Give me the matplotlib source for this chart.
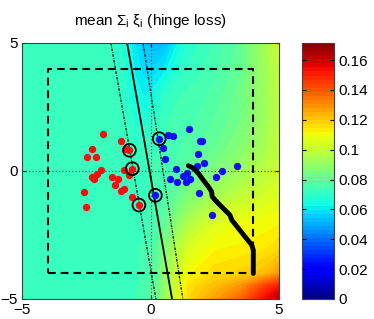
import numpy as np
import matplotlib
matplotlib.use('Agg')
import matplotlib.pyplot as plt

plt.rcParams['font.family'] = ['Liberation Sans', 'DejaVu Sans']
plt.rcParams['mathtext.fontset'] = 'custom'
plt.rcParams['mathtext.rm'] = 'Liberation Sans'
plt.rcParams['mathtext.it'] = 'Liberation Sans:italic'

# background loss surface on a coarse grid
grid_x = [-5, -3, -1.5, -1.0, -0.6, -0.2, 0.2, 0.6, 1.0, 1.5, 2.5, 3.5, 4.3, 5]
grid_y = [5, 4, 3, 2, 1, 0, -1, -2, -3, -4, -4.5, -5]
loss = [
    [.073, .073, .071, .066, .060, .054, .052, .054, .062, .069, .074, .080, .092, .102],
    [.073, .073, .072, .068, .062, .058, .058, .062, .067, .071, .075, .081, .091, .100],
    [.073, .073, .073, .069, .064, .062, .065, .070, .073, .074, .077, .083, .091, .099],
    [.073, .073, .073, .071, .067, .067, .070, .073, .074, .075, .079, .084, .091, .099],
    [.073, .073, .073, .073, .071, .071, .073, .074, .075, .077, .081, .087, .093, .100],
    [.073, .073, .073, .073, .073, .073, .074, .075, .077, .080, .086, .092, .097, .102],
    [.073, .073, .073, .073, .073, .073, .074, .077, .081, .086, .094, .100, .103, .106],
    [.073, .073, .073, .073, .073, .073, .076, .081, .088, .096, .105, .109, .110, .111],
    [.073, .073, .073, .073, .073, .074, .078, .087, .097, .105, .111, .112, .113, .116],
    [.073, .073, .073, .073, .073, .075, .080, .090, .101, .111, .116, .118, .121, .128],
    [.073, .073, .073, .073, .073, .075, .080, .091, .103, .115, .122, .129, .142, .152],
    [.073, .073, .073, .073, .073, .076, .081, .092, .104, .117, .127, .137, .152, .163],
]
vmax = 0.1714

red_x = [-1.86, -1.16, -0.95, -0.82, -2.28, -2.47, -2.13, -1.94, -2.09, -2.28, -2.21,
         -1.02, -0.71, -0.82, -1.51, -1.25, -1.37, -1.03, -1.14, -2.59, -0.72, -2.51, -0.45]
red_y = [1.43, 1.17, 0.85, 0.81, 0.85, 0.55, 0.55, 0.03, -0.12, -0.25, -0.32,
         0.05, 0.09, -0.14, -0.25, -0.32, -0.55, -0.71, -0.78, -0.83, -1.02, -1.41, -1.33]
blue_x = [0.34, 0.69, 0.88, 1.49, 1.93, 2.00, 0.50, 1.84, 0.58, 2.10, 1.80, 3.35,
          0.99, 2.80, 1.28, 1.41, 0.76, 1.04, 1.38, 1.54, 2.54, 1.90, 2.38, 0.19]
blue_y = [1.26, 1.39, 1.37, 1.63, 1.16, 1.18, 0.89, 0.66, 0.46, 0.30, 0.21, 0.21,
          0.07, 0.01, -0.18, -0.06, -0.32, -0.43, -0.44, -0.30, -0.25, -0.85, -1.73, -0.95]
sv_x = [-0.82, -0.71, -0.45, 0.34, 0.19]
sv_y = [0.81, 0.09, -1.33, 1.26, -0.95]

# separating line and margins (end points at y=5 and y=-5)
line_y = [5, -5]
boundary_x = [-0.91, 0.84]
margin_lo_x = [-1.54, 0.21]
margin_hi_x = [-0.29, 1.26]

path_x = [1.47, 1.67, 1.86, 2.05, 2.25, 2.38, 2.40, 2.51, 2.70, 2.96, 3.09, 3.16,
          3.42, 3.68, 3.94, 4.0, 4.0]
path_y = [0.21, 0.11, -0.09, -0.35, -0.61, -0.81, -1.00, -1.13, -1.33, -1.59, -1.72,
          -1.91, -2.24, -2.57, -2.89, -3.09, -4.0]

box_x = [-4, 4, 4, -4, -4]
box_y = [-4, -4, 4, 4, -4]

fig = plt.figure(figsize=(3.74, 3.19), dpi=100)
ax = fig.add_axes([22 / 374, 20 / 319, 257 / 374, 256 / 319])
cax = fig.add_axes([302 / 374, 20 / 319, 32 / 374, 256 / 319])

gx, gy = np.meshgrid(grid_x, grid_y)
cf = ax.contourf(gx, gy, np.array(loss), levels=np.linspace(0, vmax, 64),
                 cmap='jet', vmin=0, vmax=vmax)

ax.axhline(0, color='0.35', ls=':', lw=0.9)
ax.axvline(0, color='0.35', ls=':', lw=0.9)

ax.plot(box_x, box_y, color='k', lw=1.5, ls=(0, (3.7, 2.4)))
ax.plot(margin_lo_x, line_y, color='k', lw=0.9, ls=(0, (2, 1, 0.6, 1)))
ax.plot(margin_hi_x, line_y, color='k', lw=0.9, ls=(0, (2, 1, 0.6, 1)))
ax.plot(boundary_x, line_y, color='k', lw=1.3)

ax.scatter(red_x, red_y, s=28, color='#f01010', zorder=3, linewidths=0)
ax.scatter(blue_x, blue_y, s=28, color='#1010f0', zorder=3, linewidths=0)
ax.scatter(sv_x, sv_y, s=85, facecolors='none', edgecolors='k', linewidths=1.3, zorder=4)

ax.plot(path_x, path_y, color='k', lw=3.5, solid_capstyle='round',
        solid_joinstyle='round', zorder=5)

ax.set_xlim(-5, 5)
ax.set_ylim(-5, 5)
ax.set_xticks([-5, 0, 5])
ax.set_yticks([-5, 0, 5])
ax.set_xticklabels(['\u22125', '0', '5'])
ax.set_yticklabels(['\u22125', '0', '5'])
ax.tick_params(direction='in', length=3, labelsize=11, top=True, right=True, pad=3)
for sp in ax.spines.values():
    sp.set_color('0.25')
ax.set_title(r'mean $\mathrm{\Sigma_i\ \xi_i}$ (hinge loss)', fontsize=11, pad=13)

cb = fig.colorbar(cf, cax=cax, ticks=[0, 0.02, 0.04, 0.06, 0.08, 0.1, 0.12, 0.14, 0.16])
cb.ax.set_yticklabels(['0', '0.02', '0.04', '0.06', '0.08', '0.1', '0.12', '0.14', '0.16'])
cb.ax.tick_params(direction='in', length=3, labelsize=11, left=True, right=True)
cb.outline.set_edgecolor('0.25')
cb.ax.set_ylim(0, vmax)

fig.savefig('out.png', dpi=100)
